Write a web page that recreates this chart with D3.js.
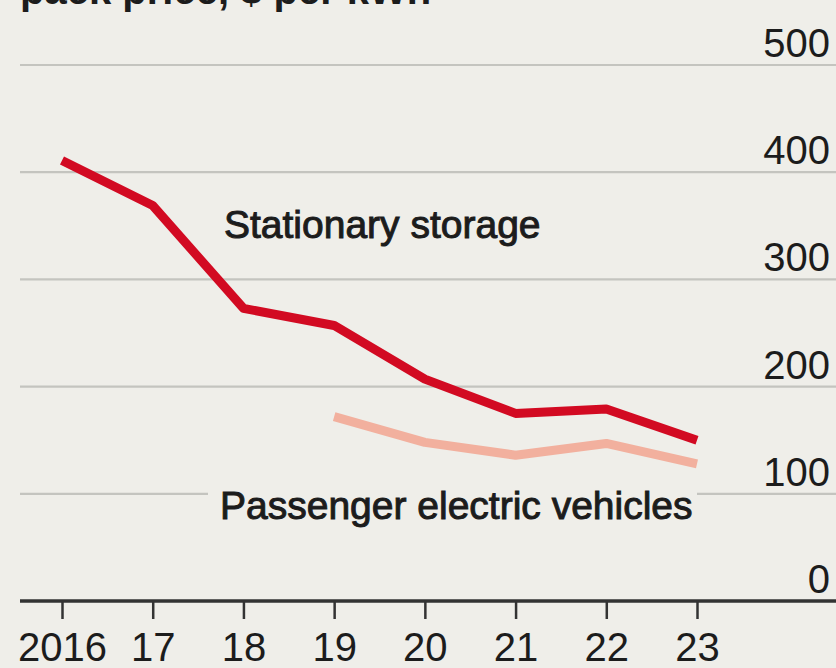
<!DOCTYPE html>
<html>
<head>
<meta charset="utf-8">
<script src="https://cdn.jsdelivr.net/npm/d3@7/dist/d3.min.js"></script>
<style>
  html, body { margin: 0; padding: 0; background: #efeee9; }
  svg { display: block; }
  text { font-family: "Liberation Sans", Arial, sans-serif; fill: #1c1c1c; }
</style>
</head>
<body>
<svg id="chart" width="836" height="668"></svg>
<script>
// Battery pack prices, $ per kWh
const years = [2016, 2017, 2018, 2019, 2020, 2021, 2022, 2023];
const yearLabels = ["2016", "17", "18", "19", "20", "21", "22", "23"];
const stationaryYears = [2016, 2017, 2018, 2019, 2020, 2021, 2022, 2023];
const stationaryValues = [411, 369, 273, 257, 207, 175, 179, 150];
const evYears = [2019, 2020, 2021, 2022, 2023];
const evValues = [172, 148, 136, 147, 128];
const yTicks = [0, 100, 200, 300, 400, 500];

const svg = d3.select("#chart");
const W = 836;

const x = d3.scaleLinear().domain([2016, 2023]).range([62, 697]);
const y = d3.scaleLinear().domain([0, 500]).range([601, 65]);

// Subtitle (runs off the top edge)
svg.append("text")
  .attr("x", 20).attr("y", 4)
  .attr("font-size", 40).attr("font-weight", "bold")
  .text("pack price, $ per kWh");

// Horizontal gridlines
svg.append("g")
  .selectAll("line")
  .data(yTicks.filter(d => d > 0))
  .join("line")
  .attr("x1", 20).attr("x2", W)
  .attr("y1", d => y(d)).attr("y2", d => y(d))
  .attr("stroke", "#c4c4bf").attr("stroke-width", 2.2);

// Right-hand value labels sitting above each gridline
svg.append("g")
  .selectAll("text")
  .data(yTicks)
  .join("text")
  .attr("x", 830)
  .attr("y", d => y(d) - 8)
  .attr("text-anchor", "end")
  .attr("font-size", 40)
  .text(d => d);

// Bottom axis
const xAxis = d3.axisBottom(x)
  .tickValues(years)
  .tickFormat((d, i) => yearLabels[i])
  .tickSize(18)
  .tickPadding(14);

const axisG = svg.append("g")
  .attr("transform", `translate(0,${y(0)})`)
  .call(xAxis);
axisG.select(".domain").remove();
axisG.selectAll(".tick line").attr("stroke", "#333").attr("stroke-width", 2.5);
axisG.selectAll(".tick text")
  .attr("font-size", 40)
  .attr("font-family", "\"Liberation Sans\", Arial, sans-serif")
  .attr("fill", "#1c1c1c");
svg.append("line")
  .attr("x1", 20).attr("x2", W)
  .attr("y1", y(0)).attr("y2", y(0))
  .attr("stroke", "#333").attr("stroke-width", 3.5);

// Series lines
const line = d3.line()
  .x(d => x(d[0]))
  .y(d => y(d[1]));

svg.append("path")
  .datum(evYears.map((yr, i) => [yr, evValues[i]]))
  .attr("d", line)
  .attr("fill", "none")
  .attr("stroke", "#f2b09e")
  .attr("stroke-width", 9)
  .attr("stroke-linejoin", "round");

svg.append("path")
  .datum(stationaryYears.map((yr, i) => [yr, stationaryValues[i]]))
  .attr("d", line)
  .attr("fill", "none")
  .attr("stroke", "#d20a22")
  .attr("stroke-width", 9)
  .attr("stroke-linejoin", "round");

// Series labels
svg.append("text")
  .attr("x", 224).attr("y", 238)
  .attr("font-size", 39)
  .attr("stroke", "#1c1c1c").attr("stroke-width", 1)
  .text("Stationary storage");

svg.append("rect")
  .attr("x", 208).attr("y", 478)
  .attr("width", 489).attr("height", 50)
  .attr("fill", "#efeee9");

svg.append("text")
  .attr("x", 220).attr("y", 519)
  .attr("font-size", 39)
  .attr("stroke", "#1c1c1c").attr("stroke-width", 1)
  .text("Passenger electric vehicles");
</script>
</body>
</html>
